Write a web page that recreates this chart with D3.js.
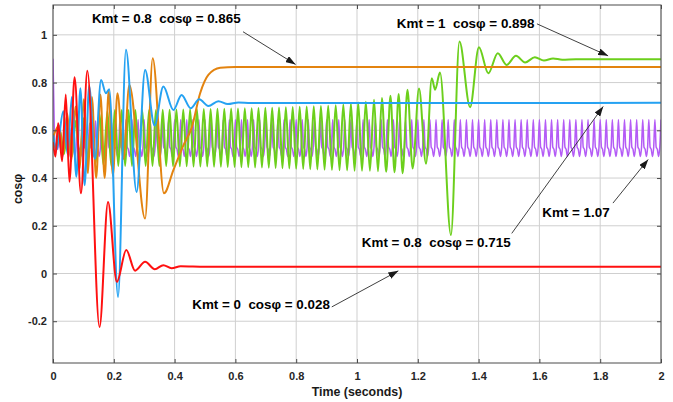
<!DOCTYPE html>
<html>
<head>
<meta charset="utf-8">
<script src="https://cdn.jsdelivr.net/npm/d3@7"></script>
<style>
  html, body { margin: 0; padding: 0; background: #fff; }
  svg { display: block; font-family: "Liberation Sans", Arial, Helvetica, sans-serif; }
</style>
</head>
<body>
<svg id="chart" width="673" height="402"></svg>
<script>
// ---- axis ticks ----
const xTicks = [0, 0.2, 0.4, 0.6, 0.8, 1, 1.2, 1.4, 1.6, 1.8, 2];
const xTickLabels = ["0", "0.2", "0.4", "0.6", "0.8", "1", "1.2", "1.4", "1.6", "1.8", "2"];
const yTicks = [-0.2, 0, 0.2, 0.4, 0.6, 0.8, 1];
const yTickLabels = ["-0.2", "0", "0.2", "0.4", "0.6", "0.8", "1"];

// ---- cos(phi) responses: turning points (time s, value) ----
// Kmt = 0
const redT = [0, 0.008, 0.017, 0.030, 0.042, 0.054, 0.071, 0.092, 0.113, 0.153, 0.181, 0.210, 0.241, 0.270, 0.303, 0.335, 0.363, 0.390, 0.420, 0.500, 2.000];
const redV = [0.55, 0.49, 0.63, 0.47, 0.75, 0.384, 0.822, 0.336, 0.85, -0.224, 0.30, -0.035, 0.098, 0.012, 0.049, 0.018, 0.035, 0.022, 0.030, 0.028, 0.028];

// Kmt = 0.8 (settles at 0.715)
const blueT = [0, 0.012, 0.034, 0.048, 0.062, 0.077, 0.090, 0.104, 0.119, 0.138, 0.158, 0.174, 0.185, 0.214, 0.240, 0.275, 0.303, 0.334, 0.363, 0.396, 0.423, 0.453, 0.481, 0.511, 0.544, 0.575, 0.610, 0.650, 2.000];
const blueV = [0.58, 0.52, 0.68, 0.50, 0.74, 0.405, 0.776, 0.37, 0.786, 0.48, 0.811, 0.755, 0.772, -0.098, 0.937, 0.342, 0.853, 0.62, 0.783, 0.685, 0.748, 0.692, 0.73, 0.702, 0.722, 0.710, 0.717, 0.714, 0.715];

// Kmt = 0.8 (settles at 0.865)
const orangeT = [0, 0.020, 0.033, 0.047, 0.060, 0.074, 0.088, 0.101, 0.115, 0.128, 0.142, 0.156, 0.170, 0.183, 0.197, 0.212, 0.232, 0.251, 0.303, 0.328, 0.365, 0.396, 0.430, 0.456, 0.484, 0.511, 0.550, 0.600, 2.000];
const orangeV = [0.57, 0.62, 0.50, 0.67, 0.47, 0.70, 0.44, 0.73, 0.42, 0.74, 0.40, 0.75, 0.40, 0.765, 0.41, 0.755, 0.48, 0.79, 0.23, 0.902, 0.336, 0.433, 0.54, 0.61, 0.755, 0.832, 0.862, 0.865, 0.865];

// Kmt = 1 (settles at 0.898)
const greenT = [
  0.000, 0.010, 0.023, 0.036, 0.049, 0.062, 0.075, 0.088, 0.101, 0.114, 0.127, 0.140, 0.153, 0.166, 0.179, 0.192,
  0.2035, 0.2148, 0.2260, 0.2373, 0.2485, 0.2598, 0.2710, 0.2823, 0.2935, 0.3048, 0.3160, 0.3273, 0.3385, 0.3498,
  0.3610, 0.3723, 0.3835, 0.3948, 0.4060, 0.4173, 0.4285, 0.4398, 0.4510, 0.4623, 0.4735, 0.4848, 0.4960, 0.5073,
  0.5185, 0.5298, 0.5410, 0.5523, 0.5635, 0.5748, 0.5860, 0.5973, 0.6085, 0.6198, 0.6310, 0.6423, 0.6535, 0.6648,
  0.6760, 0.6873, 0.6985, 0.7098, 0.7210, 0.7323, 0.7435, 0.7548, 0.7660, 0.7773, 0.7885, 0.7998,
  0.8115, 0.8230, 0.8345, 0.8462, 0.8578, 0.8696, 0.8813, 0.8933, 0.9052, 0.9176, 0.9300, 0.9425, 0.9550, 0.9675,
  0.9800, 0.9920, 1.0040, 1.0165, 1.0290, 1.0425, 1.0560, 1.0690, 1.0820, 1.0960, 1.1100, 1.1235, 1.1370, 1.1500,
  1.1660, 1.1830, 1.2040, 1.2270, 1.2460, 1.2570, 1.2730, 1.3090, 1.3370, 1.3720, 1.4010, 1.4320, 1.4630, 1.4920,
  1.5230, 1.5530, 1.5850, 1.6150, 1.6450, 1.6750, 1.7200, 2.0000
];
const greenV = [
  0.58, 0.52, 0.60, 0.50, 0.62, 0.49, 0.64, 0.48, 0.65, 0.47, 0.66, 0.46, 0.67, 0.455, 0.68, 0.45,
  0.685, 0.45, 0.685, 0.45, 0.685, 0.45, 0.685, 0.45, 0.685, 0.45, 0.685, 0.45, 0.685, 0.45,
  0.686, 0.45, 0.686, 0.449, 0.687, 0.449, 0.687, 0.449, 0.688, 0.448, 0.688, 0.448, 0.689, 0.448,
  0.689, 0.447, 0.690, 0.447, 0.690, 0.446, 0.691, 0.446, 0.691, 0.445, 0.692, 0.445, 0.692, 0.444,
  0.693, 0.444, 0.694, 0.443, 0.695, 0.442, 0.696, 0.441, 0.697, 0.440, 0.698, 0.439,
  0.699, 0.438, 0.700, 0.437, 0.701, 0.436, 0.702, 0.435, 0.703, 0.434, 0.705, 0.433, 0.708, 0.432,
  0.712, 0.431, 0.716, 0.430, 0.720, 0.430, 0.728, 0.428, 0.735, 0.426, 0.745, 0.424, 0.752, 0.420,
  0.770, 0.440, 0.775, 0.460, 0.818, 0.770, 0.842, 0.161, 0.972, 0.697, 0.948, 0.839, 0.923, 0.874,
  0.912, 0.884, 0.906, 0.892, 0.901, 0.896, 0.898, 0.898
];

// Kmt = 1.07: sampled every 4 ms from 0 to 2 s
const purpleStep = 0.004;
const purpleV = [
  0.90, 0.62, 0.50, 0.55, 0.52,
  0.59, 0.53, 0.52, 0.49, 0.53, 0.60, 0.53, 0.52, 0.49, 0.53, 0.61, 0.53, 0.52, 0.49, 0.53, 0.62, 0.53, 0.52, 0.49, 0.53,
  0.63, 0.53, 0.52, 0.49, 0.53, 0.63, 0.53, 0.52, 0.49, 0.53, 0.64, 0.53, 0.52, 0.49, 0.53, 0.64, 0.53, 0.52, 0.49, 0.53,
  0.645, 0.53, 0.52, 0.49, 0.53, 0.645, 0.53, 0.52, 0.49, 0.53, 0.645, 0.53, 0.52, 0.49, 0.53, 0.645, 0.53, 0.52, 0.49, 0.53,
  0.645, 0.53, 0.52, 0.49, 0.53, 0.645, 0.53, 0.52, 0.49, 0.53, 0.645, 0.53, 0.52, 0.49, 0.53, 0.645, 0.53, 0.52, 0.49, 0.53,
  0.645, 0.53, 0.52, 0.49, 0.53, 0.645, 0.53, 0.52, 0.49, 0.53, 0.645, 0.53, 0.52, 0.49, 0.53, 0.645, 0.53, 0.52, 0.49, 0.53,
  0.645, 0.53, 0.52, 0.49, 0.53, 0.645, 0.53, 0.52, 0.49, 0.53, 0.645, 0.53, 0.52, 0.49, 0.53, 0.645, 0.53, 0.52, 0.49, 0.53,
  0.645, 0.53, 0.52, 0.49, 0.53, 0.645, 0.53, 0.52, 0.49, 0.53, 0.645, 0.53, 0.52, 0.49, 0.53, 0.645, 0.53, 0.52, 0.49, 0.53,
  0.645, 0.53, 0.52, 0.49, 0.53, 0.645, 0.53, 0.52, 0.49, 0.53, 0.645, 0.53, 0.52, 0.49, 0.53, 0.645, 0.53, 0.52, 0.49, 0.53,
  0.645, 0.53, 0.52, 0.49, 0.53, 0.645, 0.53, 0.52, 0.49, 0.53, 0.645, 0.53, 0.52, 0.49, 0.53, 0.645, 0.53, 0.52, 0.49, 0.53,
  0.645, 0.53, 0.52, 0.49, 0.53, 0.645, 0.53, 0.52, 0.49, 0.53, 0.645, 0.53, 0.52, 0.49, 0.53, 0.645, 0.53, 0.52, 0.49, 0.53,
  0.645, 0.53, 0.52, 0.49, 0.53, 0.645, 0.53, 0.52, 0.49, 0.53, 0.645, 0.53, 0.52, 0.49, 0.53, 0.645, 0.53, 0.52, 0.49, 0.53,
  0.645, 0.53, 0.52, 0.49, 0.53, 0.645, 0.53, 0.52, 0.49, 0.53, 0.645, 0.53, 0.52, 0.49, 0.53, 0.645, 0.53, 0.52, 0.49, 0.53,
  0.645, 0.53, 0.52, 0.49, 0.53, 0.645, 0.53, 0.52, 0.49, 0.53, 0.645, 0.53, 0.52, 0.49, 0.53, 0.645, 0.53, 0.52, 0.49, 0.53,
  0.645, 0.53, 0.52, 0.49, 0.53, 0.645, 0.53, 0.52, 0.49, 0.53, 0.645, 0.53, 0.52, 0.49, 0.53, 0.645, 0.53, 0.52, 0.49, 0.53,
  0.645, 0.53, 0.52, 0.49, 0.53, 0.645, 0.53, 0.52, 0.49, 0.53, 0.645, 0.53, 0.52, 0.49, 0.53, 0.645, 0.53, 0.52, 0.49, 0.53,
  0.645, 0.53, 0.52, 0.49, 0.53, 0.645, 0.53, 0.52, 0.49, 0.53, 0.645, 0.53, 0.52, 0.49, 0.53, 0.645, 0.53, 0.52, 0.49, 0.53,
  0.645, 0.53, 0.52, 0.49, 0.53, 0.645, 0.53, 0.52, 0.49, 0.53, 0.645, 0.53, 0.52, 0.49, 0.53, 0.645, 0.53, 0.52, 0.49, 0.53,
  0.645, 0.53, 0.52, 0.49, 0.53, 0.645, 0.53, 0.52, 0.49, 0.53, 0.645, 0.53, 0.52, 0.49, 0.53, 0.645, 0.53, 0.52, 0.49, 0.53,
  0.645, 0.53, 0.52, 0.49, 0.53, 0.645, 0.53, 0.52, 0.49, 0.53, 0.645, 0.53, 0.52, 0.49, 0.53, 0.645, 0.53, 0.52, 0.49, 0.53,
  0.645, 0.53, 0.52, 0.49, 0.53, 0.645, 0.53, 0.52, 0.49, 0.53, 0.645, 0.53, 0.52, 0.49, 0.53, 0.645, 0.53, 0.52, 0.49, 0.53,
  0.645, 0.53, 0.52, 0.49, 0.53, 0.645, 0.53, 0.52, 0.49, 0.53, 0.645, 0.53, 0.52, 0.49, 0.53, 0.645, 0.53, 0.52, 0.49, 0.53,
  0.645, 0.53, 0.52, 0.49, 0.53, 0.645, 0.53, 0.52, 0.49, 0.53, 0.645, 0.53, 0.52, 0.49, 0.53, 0.645, 0.53, 0.52, 0.49, 0.53,
  0.645, 0.53, 0.52, 0.49, 0.53, 0.645, 0.53, 0.52, 0.49, 0.53, 0.645, 0.53, 0.52, 0.49, 0.53, 0.645, 0.53, 0.52, 0.49, 0.53,
  0.645, 0.53, 0.52, 0.49, 0.53, 0.645, 0.53, 0.52, 0.49, 0.53, 0.645, 0.53, 0.52, 0.49, 0.53, 0.645, 0.53, 0.52, 0.49, 0.53,
  0.645, 0.53, 0.52, 0.49, 0.53, 0.645, 0.53, 0.52, 0.49, 0.53, 0.645, 0.53, 0.52, 0.49, 0.53,
  0.645
];

// ---- layout ----
const plot = { left: 53, top: 5, right: 661, bottom: 363 };

const svg = d3.select("#chart");

const x = d3.scaleLinear().domain([0, 2]).range([plot.left, plot.right]);
const y = d3.scaleLinear().domain([-0.375, 1.125]).range([plot.bottom, plot.top]);

// grid
const grid = svg.append("g").attr("stroke", "#cfcfcf").attr("stroke-width", 1);
grid.selectAll("line.gx").data(xTicks).join("line")
  .attr("x1", d => x(d)).attr("x2", d => x(d))
  .attr("y1", plot.top).attr("y2", plot.bottom);
grid.selectAll("line.gy").data(yTicks).join("line")
  .attr("x1", plot.left).attr("x2", plot.right)
  .attr("y1", d => y(d)).attr("y2", d => y(d));

// curves
svg.append("clipPath").attr("id", "plot-clip")
  .append("rect")
  .attr("x", plot.left).attr("y", plot.top)
  .attr("width", plot.right - plot.left).attr("height", plot.bottom - plot.top);

const line = d3.line()
  .x(d => x(d[0]))
  .y(d => y(d[1]))
  .curve(d3.curveMonotoneX);

const zip = (ts, vs) => ts.map((t, i) => [t, vs[i]]);
const purplePts = purpleV.map((v, i) => [i * purpleStep, v]);

const series = [
  { pts: purplePts, color: "#b45cf6", width: 1.5 },
  { pts: zip(greenT, greenV), color: "#6ccf1c", width: 2 },
  { pts: zip(orangeT, orangeV), color: "#e3830f", width: 2 },
  { pts: zip(blueT, blueV), color: "#25a2f2", width: 2 },
  { pts: zip(redT, redV), color: "#ff1010", width: 2 }
];

const curves = svg.append("g").attr("clip-path", "url(#plot-clip)");
curves.selectAll("path").data(series).join("path")
  .attr("fill", "none")
  .attr("stroke", d => d.color)
  .attr("stroke-width", d => d.width)
  .attr("stroke-linejoin", "round")
  .attr("d", d => line(d.pts));

// axes (inward ticks on all four sides)
const axisColor = "#4a4a4a";
const tickText = g => g.selectAll("text")
  .attr("fill", "#262626")
  .attr("font-size", 11)
  .attr("font-weight", "bold")
  .attr("font-family", '"Liberation Sans", Arial, sans-serif');

const gx = svg.append("g").attr("transform", `translate(0,${plot.bottom})`)
  .call(d3.axisBottom(x).tickValues(xTicks).tickFormat((d, i) => xTickLabels[i])
    .tickSizeInner(-4).tickSizeOuter(0).tickPadding(9));
gx.call(tickText);

const gy = svg.append("g").attr("transform", `translate(${plot.left},0)`)
  .call(d3.axisLeft(y).tickValues(yTicks).tickFormat((d, i) => yTickLabels[i])
    .tickSizeInner(-4).tickSizeOuter(0).tickPadding(6));
gy.call(tickText);

svg.append("g").attr("transform", `translate(0,${plot.top})`)
  .call(d3.axisTop(x).tickValues(xTicks).tickFormat("").tickSizeInner(-4).tickSizeOuter(0));
svg.append("g").attr("transform", `translate(${plot.right},0)`)
  .call(d3.axisRight(y).tickValues(yTicks).tickFormat("").tickSizeInner(-4).tickSizeOuter(0));

svg.selectAll(".domain").remove();
svg.selectAll(".tick line").attr("stroke", axisColor);

svg.append("rect")
  .attr("x", plot.left).attr("y", plot.top)
  .attr("width", plot.right - plot.left).attr("height", plot.bottom - plot.top)
  .attr("fill", "none").attr("stroke", axisColor).attr("stroke-width", 1);

// axis titles
svg.append("text")
  .attr("x", (plot.left + plot.right) / 2).attr("y", 396)
  .attr("text-anchor", "middle")
  .attr("font-size", 12.4).attr("font-weight", "bold").attr("fill", "#1a1a1a")
  .text("Time (seconds)");

svg.append("text")
  .attr("transform", "translate(22,189) rotate(-90)")
  .attr("text-anchor", "middle")
  .attr("font-size", 12.4).attr("font-weight", "bold").attr("fill", "#1a1a1a")
  .text("cosφ");

// annotations: label anchor and arrow, in data units
const fmt = d3.format(".3f");
const last = arr => arr[arr.length - 1];
const notes = [
  { text: `Kmt = 0.8  cosφ = ${fmt(last(orangeV))}`, at: [0.128, 1.050], from: [0.625, 1.013], to: [0.798, 0.876] },
  { text: `Kmt = 1  cosφ = ${fmt(last(greenV))}`, at: [1.131, 1.029], from: [1.592, 1.046], to: [1.826, 0.912] },
  { text: `Kmt = 0.8  cosφ = ${fmt(last(blueV))}`, at: [1.016, 0.112], from: [1.509, 0.168], to: [1.810, 0.700] },
  { text: "Kmt = 1.07", at: [1.6095, 0.235], from: [1.842, 0.295], to: [1.958, 0.478] },
  { text: `Kmt = 0  cosφ = ${fmt(last(redV))}`, at: [0.458, -0.147], from: [0.917, -0.140], to: [1.136, 0.011] }
];

svg.append("defs").append("marker")
  .attr("id", "arrowhead")
  .attr("markerUnits", "userSpaceOnUse")
  .attr("markerWidth", 10).attr("markerHeight", 7)
  .attr("refX", 10).attr("refY", 3.5)
  .attr("orient", "auto")
  .append("path").attr("d", "M0,0 L10,3.5 L0,7 Z").attr("fill", "#1a1a1a");

const ann = svg.append("g");
ann.selectAll("line").data(notes).join("line")
  .attr("x1", d => x(d.from[0])).attr("y1", d => y(d.from[1]))
  .attr("x2", d => x(d.to[0])).attr("y2", d => y(d.to[1]))
  .attr("stroke", "#2a2a2a").attr("stroke-width", 0.9)
  .attr("marker-end", "url(#arrowhead)");

ann.selectAll("text").data(notes).join("text")
  .attr("x", d => x(d.at[0])).attr("y", d => y(d.at[1]))
  .attr("font-size", 13.4).attr("font-weight", "bold").attr("fill", "#000")
  .style("white-space", "pre")
  .text(d => d.text);
</script>
</body>
</html>
